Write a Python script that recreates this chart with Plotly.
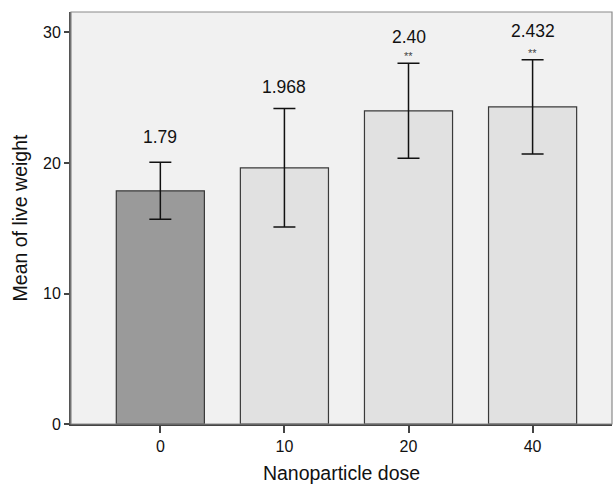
import plotly.graph_objects as go

# Data
doses = ["0", "10", "20", "40"]
means = [17.87, 19.63, 24.0, 24.3]
errors = [2.18, 4.54, 3.64, 3.62]
value_labels = ["1.79", "1.968", "2.40", "2.432"]
significance = ["", "", "**", "**"]

# Styling
bar_colors = ["#9a9a9a", "#e1e1e1", "#e1e1e1", "#e1e1e1"]
label_shift_px = [25, 22, 26, 29]
FONT = "Liberation Sans, Arial, Helvetica, sans-serif"

xpos = list(range(len(doses)))

fig = go.Figure()
fig.add_trace(go.Bar(
    x=xpos, y=means, width=0.71,
    marker=dict(color=bar_colors, line=dict(color="#3a3a3a", width=1.2)),
    error_y=dict(type="data", array=errors, visible=True,
                 color="#111111", thickness=1.5, width=11),
    hoverinfo="skip", showlegend=False,
))

annotations = []
for i, (m, e, lab, sig) in enumerate(zip(means, errors, value_labels, significance)):
    annotations.append(dict(
        x=xpos[i], y=m + e, xref="x", yref="y", text=lab, showarrow=False,
        yanchor="middle", yshift=label_shift_px[i],
        font=dict(family=FONT, size=17.5, color="#111111"),
    ))
    if sig:
        annotations.append(dict(
            x=xpos[i], y=m + e, xref="x", yref="y", text=sig, showarrow=False,
            yanchor="middle", yshift=7,
            font=dict(family=FONT, size=11, color="#444444"),
        ))

fig.update_layout(
    width=615, height=484,
    margin=dict(l=71, r=3, t=12, b=60),
    paper_bgcolor="white", plot_bgcolor="#f1f1f1",
    font=dict(family=FONT, size=16, color="#111111"),
    annotations=annotations,
    bargap=0.29,
    shapes=[dict(type="rect", xref="paper", yref="paper", x0=0, y0=0, x1=1, y1=1,
                 line=dict(color="#8a8a8a", width=1.2), layer="above")],
)
fig.update_xaxes(
    range=[-0.72, 3.64], tickmode="array", tickvals=xpos, ticktext=doses,
    showgrid=False, zeroline=False, showline=True, linecolor="#444444", linewidth=2,
    ticks="outside", ticklen=7, tickcolor="#444444", tickwidth=1.5,
    tickfont=dict(family=FONT, size=16, color="#111111"),
    title=dict(text="Nanoparticle dose", font=dict(family=FONT, size=19.5, color="#111111"), standoff=12),
)
fig.update_yaxes(
    range=[0, 31.57], tickvals=[0, 10, 20, 30],
    showgrid=False, zeroline=False, showline=True, linecolor="#555555", linewidth=2,
    ticks="outside", ticklen=5, tickcolor="#444444", tickwidth=1.5,
    tickfont=dict(family=FONT, size=16, color="#111111"),
    title=dict(text="Mean of live weight", font=dict(family=FONT, size=19.5, color="#111111"), standoff=10),
)

fig.write_html("out.html", config={"displayModeBar": False},
               post_script="document.body.style.margin='0';document.body.style.overflow='hidden';")
